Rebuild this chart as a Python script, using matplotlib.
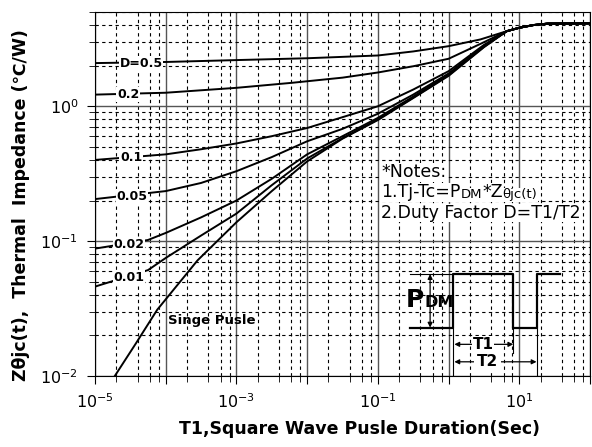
import numpy as np
import matplotlib
matplotlib.use("Agg")
import matplotlib.pyplot as plt
from matplotlib.ticker import LogLocator, NullFormatter

plt.rcParams['font.family'] = ['DejaVu Sans']

# log10(t) and Z (C/W)
lt_d05 = [-5, -4, -3, -2, -1, -0.5, 0, 0.45, 0.82, 1.0, 1.2, 1.4, 2.0]
z_d05 = [2.09, 2.13, 2.2, 2.27, 2.38, 2.55, 2.79, 3.13, 3.6, 3.82, 4.0, 4.1, 4.12]

lt_d02 = [-5, -4, -3, -2.23, -1.5, -1, -0.5, 0, 0.45, 0.82, 1.0, 1.2, 1.4, 2.0]
z_d02 = [1.22, 1.26, 1.37, 1.49, 1.63, 1.78, 1.98, 2.25, 2.9, 3.6, 3.82, 4.0, 4.1, 4.12]

lt_d01 = [-5, -4, -3.5, -3, -2.5, -2, -1.5, -1, -0.5, 0, 0.5, 0.82, 1.0, 1.2, 1.4, 2.0]
z_d01 = [0.40, 0.44, 0.48, 0.53, 0.60, 0.69, 0.83, 1.0, 1.33, 1.82, 2.85, 3.6, 3.82, 4.0, 4.1, 4.12]

lt_d005 = [-5, -4, -3.5, -3, -2.5, -2, -1.5, -1, -0.5, 0, 0.5, 0.82, 1.0, 1.2, 1.4, 2.0]
z_d005 = [0.205, 0.235, 0.27, 0.33, 0.42, 0.55, 0.68, 0.88, 1.22, 1.75, 2.8, 3.6, 3.82, 4.0, 4.1, 4.12]

lt_d002 = [-5, -4.25, -4, -3.5, -3, -2.5, -2, -1.5, -1, -0.5, 0, 0.5, 0.82, 1.0, 1.2, 1.4, 2.0]
z_d002 = [0.088, 0.102, 0.115, 0.15, 0.2, 0.29, 0.44, 0.6, 0.82, 1.18, 1.72, 2.78, 3.6, 3.82, 4.0, 4.1, 4.12]

lt_d001 = [-5, -4.25, -4, -3.5, -3, -2.5, -2, -1.5, -1, -0.5, 0, 0.5, 0.82, 1.0, 1.2, 1.4, 2.0]
z_d001 = [0.046, 0.061, 0.075, 0.11, 0.16, 0.26, 0.41, 0.58, 0.8, 1.16, 1.7, 2.76, 3.6, 3.82, 4.0, 4.1, 4.12]

lt_single = [-4.72, -4.42, -4.12, -3.55, -3, -2.5, -2, -1.5, -1, -0.5, 0, 0.5, 0.82, 1.0, 1.2, 1.4, 2.0]
z_single = [0.01, 0.0175, 0.031, 0.072, 0.138, 0.235, 0.39, 0.575, 0.79, 1.15, 1.68, 2.74, 3.6, 3.82, 4.0, 4.1, 4.12]

curves = [(lt_d05, z_d05), (lt_d02, z_d02), (lt_d01, z_d01), (lt_d005, z_d005),
          (lt_d002, z_d002), (lt_d001, z_d001), (lt_single, z_single)]

labels = ['D=0.5', '0.2', '0.1', '0.05', '0.02', '0.01']
label_lt = [-4.35, -4.53, -4.49, -4.48, -4.52, -4.52]
label_z = [2.08, 1.22, 0.42, 0.215, 0.094, 0.054]

x_ticks = [1e-5, 1e-4, 1e-3, 1e-2, 1e-1, 1e0, 1e1, 1e2]
x_ticklabels = ['$10^{-5}$', '', '$10^{-3}$', '', '$10^{-1}$', '', '$10^{1}$', '']
y_ticks = [1e-2, 1e-1, 1e0]
y_ticklabels = ['$10^{-2}$', '$10^{-1}$', '$10^{0}$']

fig = plt.figure(figsize=(5.92, 4.47), dpi=100)
ax = fig.add_axes([95/592, 71/447, 495/592, 364/447])

for lt, z in curves:
    ax.plot(10**np.array(lt), z, color='black', lw=1.4, zorder=3)

for lab, lx, lz in zip(labels, label_lt, label_z):
    ax.text(10**lx, lz, lab, fontsize=9, fontweight='bold', ha='center', va='center',
            bbox=dict(facecolor='white', edgecolor='none', pad=0.5), zorder=4)

ax.text(10**-3.97, 0.026, 'Singe Pusle', fontsize=9.5, fontweight='bold', ha='left', va='center', zorder=4)

ax.set_xscale('log')
ax.set_yscale('log')
ax.set_xlim(1e-5, 1e2)
ax.set_ylim(1e-2, 5)

ax.set_xticks(x_ticks)
ax.set_xticklabels(x_ticklabels)
ax.set_yticks(y_ticks)
ax.set_yticklabels(y_ticklabels)
ax.xaxis.set_minor_locator(LogLocator(base=10, subs=[2, 4, 6, 8], numticks=50))
ax.yaxis.set_minor_locator(LogLocator(base=10, subs=np.arange(2, 10), numticks=50))
ax.xaxis.set_minor_formatter(NullFormatter())
ax.yaxis.set_minor_formatter(NullFormatter())
ax.tick_params(which='major', direction='out', length=6, labelsize=11.5, pad=6)
ax.tick_params(which='minor', direction='out', length=4)

ax.grid(which='major', color='#555555', lw=1.0, ls='-')
ax.grid(which='minor', color='black', lw=0.8, ls=(0, (3, 3)))
ax.set_axisbelow(True)

ax.set_xlabel('T1,Square Wave Pusle Duration(Sec)', fontsize=12.5, fontweight='bold')
ax.xaxis.set_label_coords(0.535, -0.12)
ax.set_ylabel('Zθjc(t),  Thermal  Impedance (℃/W)', fontsize=12.5, fontweight='bold')
ax.yaxis.set_label_coords(-0.131, 0.47)

# notes
wb = dict(facecolor='white', edgecolor='none', pad=0.3)
ax.text(0.578, 0.560, '*Notes:', transform=ax.transAxes, fontsize=12.5, va='center', ha='left', bbox=wb, zorder=5)
t1 = ax.text(0.578, 0.480, '1.Tj-Tc=P', transform=ax.transAxes, fontsize=12.5, va='bottom', ha='left', bbox=wb, zorder=5)
t2 = ax.annotate('DM', xy=(1, 0), xycoords=t1, fontsize=9.5, va='bottom', ha='left', bbox=wb, zorder=5)
t3 = ax.annotate('*Z', xy=(1, 0), xycoords=t2, fontsize=12.5, va='bottom', ha='left', bbox=wb, zorder=5)
ax.annotate('θjc(t)', xy=(1, 0), xycoords=t3, fontsize=9.5, va='bottom', ha='left', bbox=wb, zorder=5)
ax.text(0.578, 0.448, '2.Duty Factor D=T1/T2', transform=ax.transAxes, fontsize=12.5, va='center', ha='left', bbox=wb, zorder=5)

# pulse sketch
tr = ax.transAxes
ax.plot([0.636, 0.724, 0.724, 0.845, 0.845, 0.892, 0.892, 0.939],
        [0.133, 0.133, 0.280, 0.280, 0.133, 0.133, 0.280, 0.280], color='black', lw=1.6, transform=tr, zorder=5)
ax.plot([0.636, 0.724], [0.280, 0.280], color='black', lw=0.8, transform=tr, zorder=5)
ax.plot([0.724, 0.724], [0.133, 0.0], color='black', lw=0.8, transform=tr, zorder=5)
ax.plot([0.845, 0.845], [0.133, 0.063], color='black', lw=0.8, transform=tr, zorder=5)
ax.plot([0.892, 0.892], [0.133, 0.0], color='black', lw=0.8, transform=tr, zorder=5)
ax.annotate('', xy=(0.677, 0.280), xytext=(0.677, 0.133), xycoords=tr, textcoords=tr,
            arrowprops=dict(arrowstyle='<|-|>', color='black', lw=0.9, mutation_scale=7, shrinkA=0, shrinkB=0), zorder=5)
ax.text(0.665, 0.190, 'P', transform=tr, fontsize=18, fontweight='bold', ha='right', va='baseline', zorder=6)
ax.text(0.665, 0.190, 'DM', transform=tr, fontsize=11.5, fontweight='bold', ha='left', va='baseline', zorder=6)
ax.annotate('', xy=(0.726, 0.087), xytext=(0.845, 0.087), xycoords=tr, textcoords=tr,
            arrowprops=dict(arrowstyle='<|-|>', color='black', lw=0.9, mutation_scale=7, shrinkA=0, shrinkB=0), zorder=5)
ax.text(0.784, 0.087, 'T1', transform=tr, fontsize=11, fontweight='bold', ha='center', va='center',
        bbox=dict(facecolor='white', edgecolor='none', pad=0.5), zorder=6)
ax.annotate('', xy=(0.726, 0.039), xytext=(0.892, 0.039), xycoords=tr, textcoords=tr,
            arrowprops=dict(arrowstyle='<|-|>', color='black', lw=0.9, mutation_scale=7, shrinkA=0, shrinkB=0), zorder=5)
ax.text(0.793, 0.039, 'T2', transform=tr, fontsize=11, fontweight='bold', ha='center', va='center',
        bbox=dict(facecolor='white', edgecolor='none', pad=2), zorder=6)

fig.savefig('out.png', dpi=100)
